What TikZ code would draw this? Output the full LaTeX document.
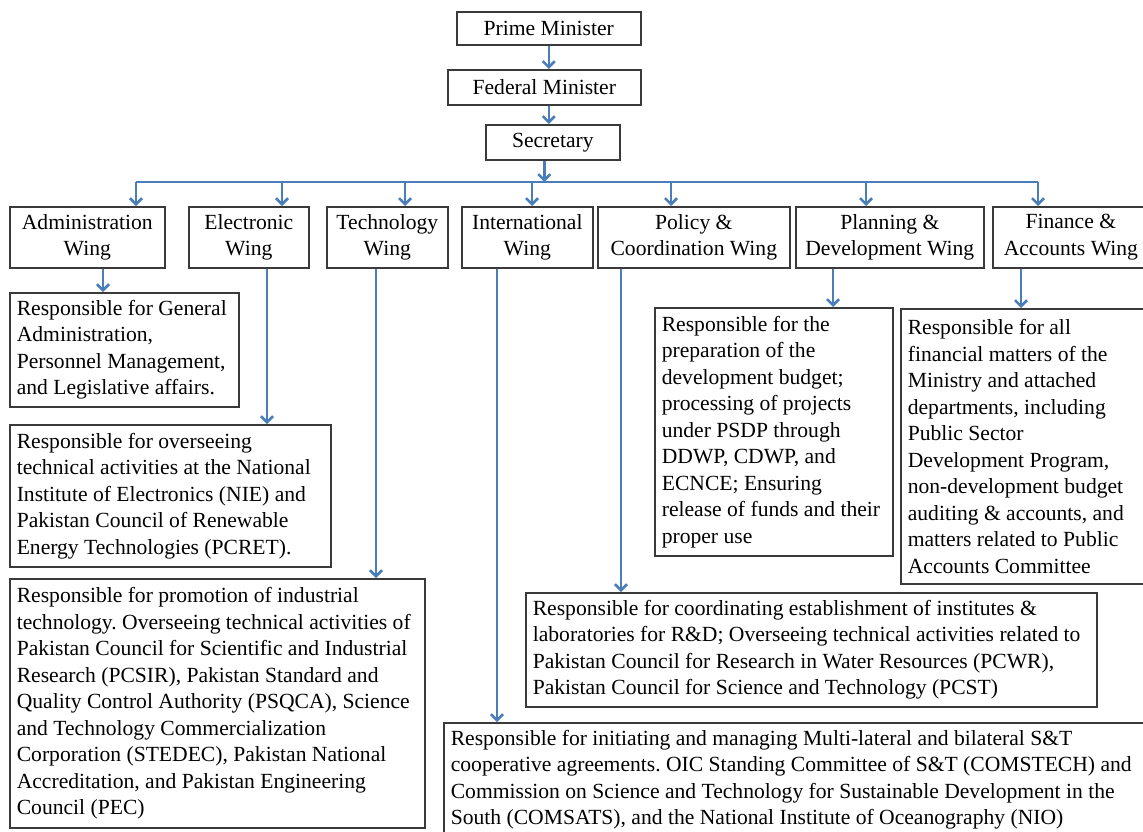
\documentclass[tikz,border=0pt]{standalone}
\usepackage{fontspec}
\setmainfont{Liberation Serif}
\usetikzlibrary{arrows.meta}
\definecolor{linkblue}{HTML}{4A7EBB}
\definecolor{boxgray}{HTML}{3A3A3A}
\frenchspacing

\begin{document}
\begin{tikzpicture}[x=0.5pt, y=-0.5pt,
  >={Straight Barb[length=3pt, width=6pt]},
  every node/.style={font=\fontsize{10.8}{13.25}\selectfont},
  box/.style={draw=boxgray, line width=0.8pt, anchor=north west, inner sep=0pt, align=center},
  wing/.style={box, minimum height=30.5pt},
  duty/.style={box, align=flush left, inner xsep=3.5pt, inner ysep=0pt},
  link/.style={linkblue, line width=1.3pt}]

% Frame
\useasboundingbox (0,0) rectangle (1143,831);
\clip (0,0) rectangle (1143,831);

% Top of the ministry
\node[box, minimum width=92pt, minimum height=16.5pt] (pm) at (456,11) {Prime Minister};
\node[box, minimum width=96.5pt, minimum height=17.5pt] (fm) at (447,69) {Federal Minister};
\node[box, minimum width=67pt, minimum height=17.5pt] (sec) at (485,124) {Secretary};

% Wings
\node[wing, minimum width=77.5pt] (adm) at (9,206) {Administration\\Wing};
\node[wing, minimum width=60pt] (ele) at (188,206) {Electronic\\Wing};
\node[wing, minimum width=60.5pt] (tec) at (326,206) {Technology\\Wing};
\node[wing, minimum width=65.5pt] (int) at (461,206) {International\\Wing};
\node[wing, minimum width=96pt] (pol) at (597,206) {Policy \&\\Coordination Wing};
\node[wing, minimum width=94pt] (pla) at (795,206) {Planning \&\\Development Wing};
\node[wing, minimum width=78pt] (fin) at (992,206) {Finance \&\\Accounts Wing};

% Duties of each wing
\node[duty, text width=107.5pt, minimum height=57pt] (admr) at (9,292)
  {Responsible for General\\Administration,\\Personnel Management,\\and Legislative affairs.};
\node[duty, text width=153.5pt, minimum height=71pt] (eler) at (9,424)
  {Responsible for overseeing\\technical activities at the National\\Institute of Electronics (NIE) and\\Pakistan Council of Renewable\\Energy Technologies (PCRET).};
\node[duty, text width=200.5pt, minimum height=124.5pt] (tecr) at (9,578)
  {Responsible for promotion of industrial\\technology. Overseeing technical activities of\\Pakistan Council for Scientific and Industrial\\Research (PCSIR), Pakistan Standard and\\Quality Control Authority (PSQCA), Science\\and Technology Commercialization\\Corporation (STEDEC), Pakistan National\\Accreditation, and Pakistan Engineering\\Council (PEC)};
\node[duty, text width=112pt, minimum height=124pt] (plar) at (654,307)
  {Responsible for the\\preparation of the\\development budget;\\processing of projects\\under PSDP through\\DDWP, CDWP, and\\ECNCE; Ensuring\\release of funds and their\\proper use};
\node[duty, text width=118pt, minimum height=137.5pt] (finr) at (900,308)
  {Responsible for all\\financial matters of the\\Ministry and attached\\departments, including\\Public Sector\\Development Program,\\non-development budget\\auditing \& accounts, and\\matters related to Public\\Accounts Committee};
\node[duty, text width=278.5pt, minimum height=57pt] (polr) at (525,592)
  {Responsible for coordinating establishment of institutes \&\\laboratories for R\&D; Overseeing technical activities related to\\Pakistan Council for Research in Water Resources (PCWR),\\Pakistan Council for Science and Technology (PCST)};
\node[duty, text width=353pt, minimum height=57pt] (intr) at (443,722)
  {Responsible for initiating and managing Multi-lateral and bilateral S\&T\\cooperative agreements. OIC Standing Committee of S\&T (COMSTECH) and\\Commission on Science and Technology for Sustainable Development in the\\South (COMSATS), and the National Institute of Oceanography (NIO)};

% Chain of command
\draw[link, ->] (pm.south) -- (pm.south |- fm.north);
\draw[link, ->] (pm.south |- fm.south) -- (pm.south |- sec.north);
\coordinate (busL) at (136,182);
\coordinate (busR) at (1038,182);
\draw[link, ->] (fm.south |- sec.south) -- (fm.south |- busL);
\draw[link] (busL) -- (busR);

% Bus down to the wings
\foreach \w/\x in {adm/136, ele/282, tec/405, int/532, pol/671, pla/866, fin/1038}
  \draw[link, ->] (\x,182) -- (\w.north -| \x,0);

% Wings down to their duties
\foreach \w/\r/\x in {adm/admr/103, ele/eler/267, tec/tecr/376, int/intr/497, pol/polr/621, pla/plar/833, fin/finr/1021}
  \draw[link, ->] (\w.south -| \x,0) -- (\r.north -| \x,0);

\end{tikzpicture}
\end{document}
